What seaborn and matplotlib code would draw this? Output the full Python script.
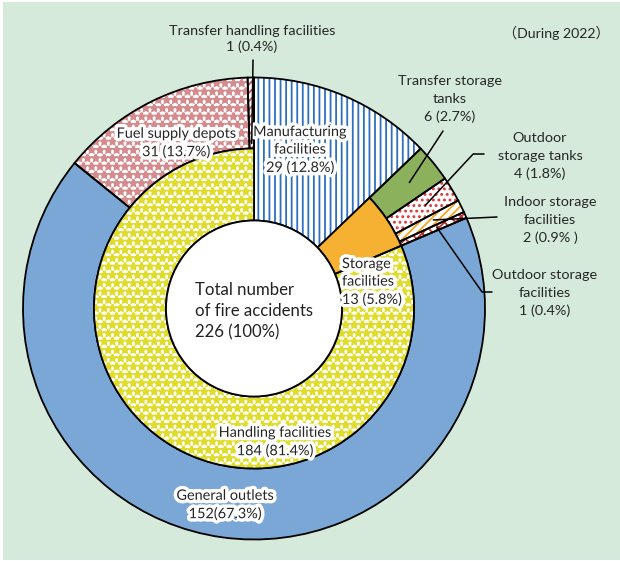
import numpy as np
import matplotlib
matplotlib.use('Agg')
import matplotlib.pyplot as plt
import matplotlib.patheffects as pe
from matplotlib.patches import Rectangle, Circle
import seaborn as sns

# data
inner_names = ['Manufacturing facilities', 'Storage facilities', 'Handling facilities']
inner_counts = [29, 13, 184]
outer_names = ['Manufacturing facilities', 'Transfer storage tanks', 'Outdoor storage tanks',
               'Indoor storage facilities', 'Outdoor storage facilities', 'General outlets',
               'Fuel supply depots', 'Transfer handling facilities']
outer_counts = [29, 6, 4, 2, 1, 152, 31, 1]
total_text = 'Total number\nof fire accidents\n226 (100%)'

outer_texts = ['Manufacturing\nfacilities\n29 (12.8%)', 'Transfer storage\ntanks\n6 (2.7%)',
               'Outdoor\nstorage tanks\n4 (1.8%)', 'Indoor storage\nfacilities\n2 (0.9% )',
               'Outdoor storage\nfacilities\n1 (0.4%)', 'General outlets\n152(67.3%)',
               'Fuel supply depots\n31 (13.7%)', 'Transfer handling facilities\n1 (0.4%)']
inner_texts = ['', 'Storage\nfacilities\n13 (5.8%)', 'Handling facilities\n184 (81.4%)']

sns.set_theme(style='white')
plt.rcParams['font.family'] = ['Lato', 'Noto Sans CJK JP', 'DejaVu Sans']
plt.rcParams['hatch.linewidth'] = 1.3

W, H = 620, 561
fig = plt.figure(figsize=(W / 100, H / 100), dpi=100)
ax = fig.add_axes([0, 0, 1, 1])
ax.add_patch(Rectangle((3, 1), 617, 558, color='#d6eadc', lw=0, zorder=0))

def Y(y):
    # image row -> data y
    return H - y

cx, cy = 254, Y(308.5)
R_out, R_mid, R_in = 231, 160, 88

# (face, hatch, hatch colour)
outer_style = [('white', '|||', '#2e6fbf'),
               ('#8cb15c', None, '#8cb15c'),
               ('white', '...', '#d9383a'),
               ('white', '////', '#f5a623'),
               ('white', 'xxx', '#b83232'),
               ('#7ba7d7', None, '#7ba7d7'),
               ('white', '**', '#d58b8d'),
               ('white', '////', '#c0504d')]
inner_style = [('white', '|||', '#2e6fbf'),
               ('#f6b132', None, '#f6b132'),
               ('white', '**', '#e0dc2b')]

pie_kw = dict(center=(cx, cy), startangle=90, counterclock=False)

def ring(counts, radius, width, styles):
    fills, _ = ax.pie(counts, radius=radius, wedgeprops=dict(width=width, linewidth=0), **pie_kw)
    lines, _ = ax.pie(counts, radius=radius,
                      wedgeprops=dict(width=width, linewidth=1.3, edgecolor='black', facecolor='none'),
                      **pie_kw)
    for w, (fc, hatch, hc) in zip(fills, styles):
        w.set_facecolor(fc)
        w.set_edgecolor(hc)
        if hatch:
            w.set_hatch(hatch)
            if hatch.startswith('*') and hasattr(w, 'set_hatch_linewidth'):
                w.set_hatch_linewidth(1.7)
    return fills, lines

outer_fill, outer_line = ring(outer_counts, R_out, R_out - R_mid, outer_style)
inner_fill, inner_line = ring(inner_counts, R_mid, R_mid - R_in, inner_style)

# manufacturing spans both rings as one slice
outer_fill[0].set_width(R_out - R_in)
outer_line[0].set_width(R_out - R_in)
inner_fill[0].set_visible(False)
inner_line[0].set_visible(False)

ax.add_patch(Circle((cx, cy), R_in, facecolor='white', edgecolor='black', lw=1.3, zorder=3))

def mid(w, r):
    t = np.deg2rad((w.theta1 + w.theta2) / 2)
    return cx + r * np.cos(t), cy + r * np.sin(t)

halo = [pe.withStroke(linewidth=5, foreground='white')]
fs = 10.4
txt = dict(fontsize=fs, color='#262626', ha='center', va='center', linespacing=1.55, zorder=5)

# labels inside the rings
ax.text(300, Y(150), outer_texts[0], path_effects=halo, **txt)
ax.text(176, Y(143), outer_texts[6], path_effects=halo, **txt)
ax.text(225, Y(505), outer_texts[5], path_effects=halo, **txt)
ax.text(275, Y(442), inner_texts[2], path_effects=halo, **txt)
ax.text(342, Y(282), inner_texts[1], path_effects=halo, **{**txt, 'ha': 'left'})
ax.text(195, Y(311), total_text, fontsize=12.1, color='#222222', ha='left', va='center',
        linespacing=1.4, zorder=5)

# outside labels
ax.text(252, Y(39), outer_texts[7], **{**txt, 'linespacing': 1.4})
ax.text(450, Y(99), outer_texts[1], **txt)
ax.text(540, Y(156), outer_texts[2], **txt)
ax.text(550, Y(220), outer_texts[3], **txt)
ax.text(545, Y(293), outer_texts[4], **txt)
ax.text(556, Y(33), '（During 2022）', fontsize=10.2, color='#262626', ha='center', va='center',
        family=['Lato', 'Noto Sans CJK JP'])

lk = dict(arrowstyle='-', color='black', lw=1.1, shrinkA=0, shrinkB=0)
ax.annotate('', xy=mid(outer_line[7], 165), xytext=(253, Y(60)), arrowprops=lk, zorder=6)
ax.annotate('', xy=mid(outer_line[1], 200), xytext=(443, Y(131)), arrowprops=lk, zorder=6)
ax.annotate('', xy=mid(outer_line[2], 200), xytext=(484, Y(154)),
            arrowprops={**lk, 'connectionstyle': 'angle,angleA=0,angleB=47,rad=0'}, zorder=6)
ax.annotate('', xy=mid(outer_line[3], 200), xytext=(497, Y(217)), arrowprops=lk, zorder=6)
ax.annotate('', xy=mid(outer_line[4], 200), xytext=(492, Y(292)),
            arrowprops={**lk, 'connectionstyle': 'angle,angleA=0,angleB=-55,rad=0'}, zorder=6)

ax.set_xlim(0, W)
ax.set_ylim(0, H)
ax.set_aspect('equal')
ax.axis('off')
fig.savefig('out.png', dpi=100, facecolor='white')
